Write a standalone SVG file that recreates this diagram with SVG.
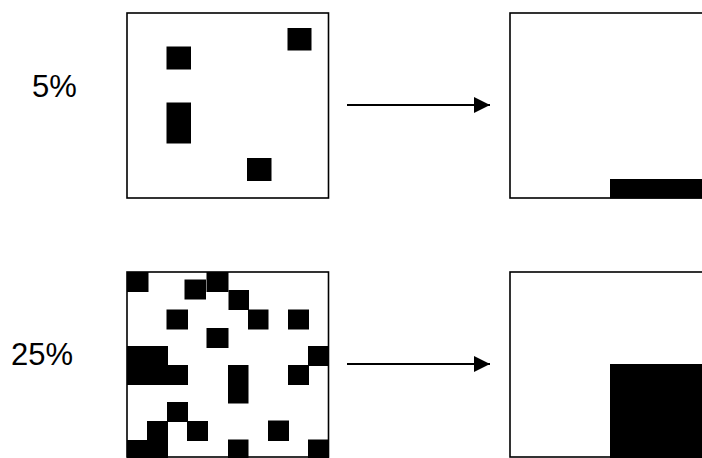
<svg xmlns="http://www.w3.org/2000/svg" width="702" height="458" viewBox="0 0 702 458">
  <defs>
    <style>
      .label { font-family: "Liberation Sans", Arial, sans-serif; font-size: 31px; fill: #000; }
      .frame { fill: #fff; stroke: #000; stroke-width: 1.6; }
      .cell { fill: #000; }
      .arrow { stroke: #000; stroke-width: 2; fill: none; marker-end: url(#head); }
    </style>
    <marker id="head" markerUnits="userSpaceOnUse" markerWidth="16" markerHeight="16" refX="16" refY="8" orient="auto">
      <path d="M0,0 L16,8 L0,16 Z" fill="#000"/>
    </marker>
  </defs>
  <rect width="702" height="458" fill="#fff"/>

  <g id="label-5">
    <text class="label" x="32" y="97">5%</text>
  </g>
  <g id="label-25">
    <text class="label" x="11" y="365">25%</text>
  </g>

  <g id="grid-5">
    <rect class="frame" x="127" y="13" width="201.5" height="185"/>
    <rect class="cell" x="166.5" y="46.5" width="24.5" height="23"/>
    <rect class="cell" x="166.5" y="102.5" width="24.5" height="41"/>
    <rect class="cell" x="287.5" y="28" width="24" height="22.5"/>
    <rect class="cell" x="247" y="158" width="24.5" height="23"/>
  </g>

  <g id="result-5">
    <rect class="frame" x="510" y="13" width="202" height="185"/>
    <rect class="cell" x="610" y="179" width="92" height="19.5"/>
  </g>

  <g id="grid-25">
    <rect class="frame" x="127" y="272" width="201.5" height="185"/>
    <rect class="cell" x="127" y="272" width="21.5" height="20"/>
    <rect class="cell" x="184.5" y="279.5" width="21.5" height="20"/>
    <rect class="cell" x="206.5" y="272" width="22" height="20"/>
    <rect class="cell" x="228.5" y="290" width="20.5" height="20"/>
    <rect class="cell" x="248" y="309.5" width="20.5" height="20"/>
    <rect class="cell" x="288" y="309.5" width="21" height="20"/>
    <rect class="cell" x="166.5" y="309.5" width="21.5" height="20"/>
    <rect class="cell" x="206.5" y="328" width="22" height="20"/>
    <rect class="cell" x="308" y="346" width="21" height="20"/>
    <rect class="cell" x="127" y="346" width="41" height="39"/>
    <rect class="cell" x="167" y="365" width="21" height="20"/>
    <rect class="cell" x="228" y="365" width="20.5" height="38.5"/>
    <rect class="cell" x="288" y="365" width="21" height="20"/>
    <rect class="cell" x="167" y="402" width="21" height="20"/>
    <rect class="cell" x="147" y="421" width="21" height="20"/>
    <rect class="cell" x="127" y="440" width="41" height="18"/>
    <rect class="cell" x="187" y="421" width="21" height="20"/>
    <rect class="cell" x="268" y="420.5" width="21" height="20.5"/>
    <rect class="cell" x="228" y="439.5" width="20.5" height="18.5"/>
    <rect class="cell" x="308" y="439.5" width="21" height="18.5"/>
  </g>

  <g id="result-25">
    <rect class="frame" x="510" y="272" width="202" height="185"/>
    <rect class="cell" x="610" y="364" width="92" height="94"/>
  </g>

  <g id="connectors">
    <line class="arrow" x1="347" y1="105" x2="490" y2="105"/>
    <line class="arrow" x1="347" y1="364" x2="490" y2="364"/>
  </g>
</svg>
